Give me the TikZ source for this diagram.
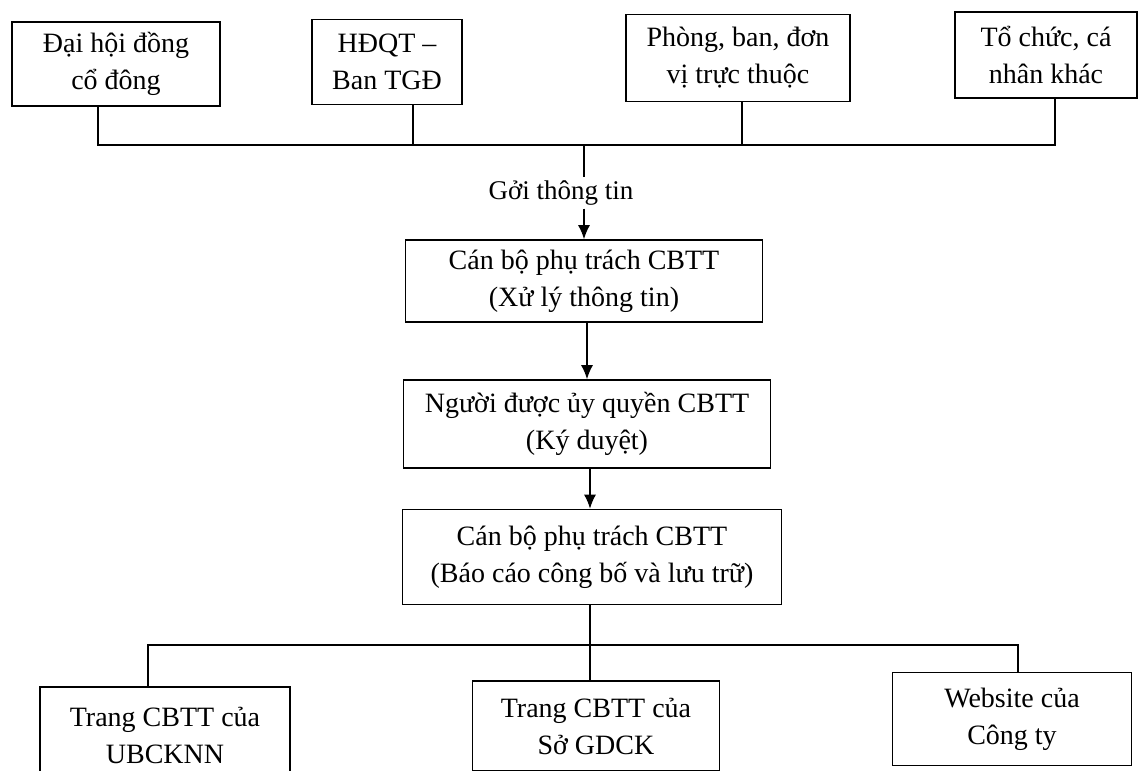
\documentclass[tikz,border=0pt]{standalone}
\usepackage{fontspec}
\setmainfont{Liberation Serif}
\usetikzlibrary{arrows.meta}
\begin{document}
\begin{tikzpicture}[x=1pt,y=-1pt,
  box/.style={draw,line width=1.6pt,rectangle,align=center,font=\fontsize{28}{37}\selectfont,inner sep=0pt},
  conn/.style={line width=1.4pt},
  arr/.style={line width=1.4pt,-{Latex[length=14pt,width=12pt]}},
  lbl/.style={font=\fontsize{27}{30}\selectfont,inner sep=3pt}]
\useasboundingbox[fill=white] (0,0) rectangle (1144,771);
% top row
\node[box,minimum width=208pt,minimum height=84pt] (b1) at (116,64) {Đại hội đồng\\cổ đông};
\node[box,minimum width=150pt,minimum height=85pt] (b2) at (387,62) {HĐQT –\\Ban TGĐ};
\node[box,minimum width=224pt,minimum height=87pt] (b3) at (738,58) {Phòng, ban, đơn\\vị trực thuộc};
\node[box,minimum width=182pt,minimum height=86pt] (b4) at (1046,55) {Tổ chức, cá\\nhân khác};
\coordinate (h1) at (98,145);
\coordinate (h4) at (1055,145);
\coordinate (j1) at (584,145);
\draw[conn] (b1.south -| h1) -- (h1) -- (h4) -- (b4.south -| h4);
\draw[conn] (b2.south) ++(26,0) coordinate (s2) -- (s2 |- h1);
\draw[conn] (b3.south) ++(4,0) coordinate (s3) -- (s3 |- h1);
\node[lbl] (lab) at (561,193) {Gởi thông tin};
% middle column
\node[box,minimum width=357pt,minimum height=82pt] (b5) at (584,281) {Cán bộ phụ trách CBTT\\(Xử lý thông tin)};
\node[box,minimum width=367pt,minimum height=88pt] (b6) at (587,424) {Người được ủy quyền CBTT\\(Ký duyệt)};
\node[box,minimum width=379pt,minimum height=95pt] (b7) at (592,557) {Cán bộ phụ trách CBTT\\(Báo cáo công bố và lưu trữ)};
\draw[conn] (j1) -- (j1 |- lab.north);
\draw[arr] (j1 |- lab.south) -- (j1 |- b5.north);
\draw[arr] (b5.south) ++(3,0) coordinate (s5) -- (s5 |- b6.north);
\draw[arr] (b6.south) ++(3,0) coordinate (s6) -- (s6 |- b7.north);
% bottom row
\node[box,minimum width=250pt,minimum height=96pt] (b8) at (165,735) {Trang CBTT của\\UBCKNN};
\node[box,minimum width=247pt,minimum height=90pt] (b9) at (596,726) {Trang CBTT của\\Sở GDCK};
\node[box,minimum width=239pt,minimum height=93pt] (b10) at (1012,719) {Website của\\Công ty};
\coordinate (k1) at (148,645);
\coordinate (k3) at (1018,645);
\draw[conn] (b7.south) ++(-2,0) coordinate (s7) -- (s7 |- k1);
\draw[conn] (b8.north -| k1) -- (k1) -- (k3) -- (b10.north -| k3);
\draw[conn] (s7 |- k1) -- (s7 |- b9.north);
\end{tikzpicture}
\end{document}
